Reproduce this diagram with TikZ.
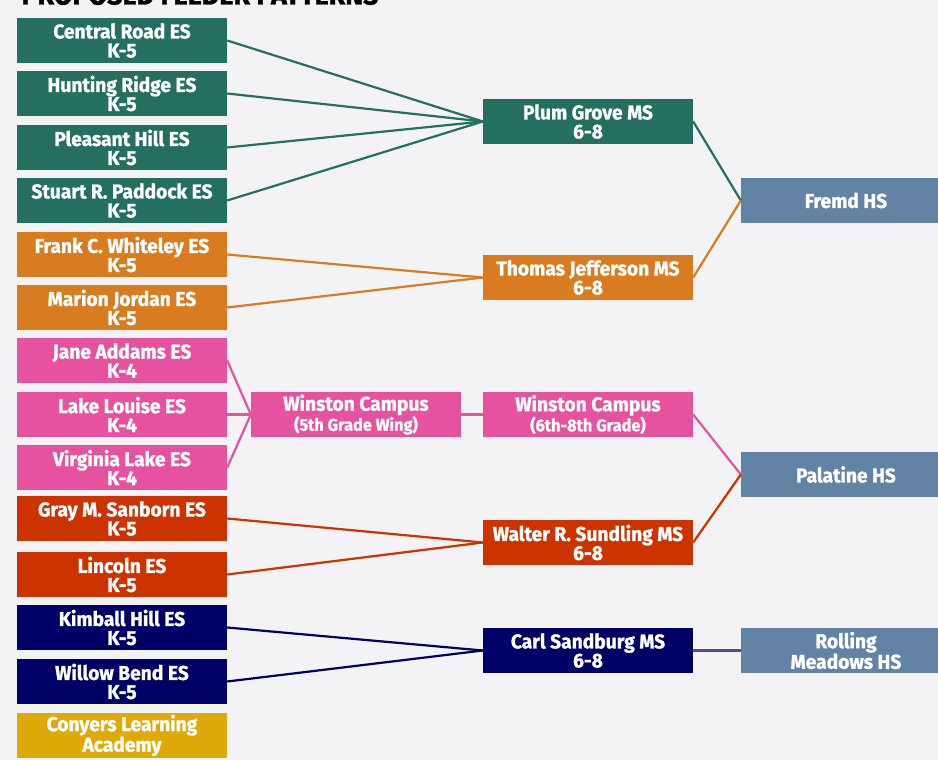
\documentclass[tikz,border=0pt]{standalone}
\usepackage{fontspec}
\setmainfont{Fira Sans}[FakeStretch=0.96, BoldFeatures={FakeBold=1.2}]
\definecolor{pgreen}{HTML}{246F60}
\definecolor{porange}{HTML}{D97B20}
\definecolor{ppink}{HTML}{E6529F}
\definecolor{pred}{HTML}{CC3300}
\definecolor{pnavy}{HTML}{000066}
\definecolor{pgold}{HTML}{DDAA0A}
\definecolor{psteel}{HTML}{6283A3}
\definecolor{plink}{HTML}{4F4F90}
\definecolor{pbg}{HTML}{F3F3F5}
\tikzset{
  school/.style={fill=#1, text=white, minimum width=210pt, minimum height=45pt,
    inner sep=0pt, align=center, font=\fontsize{20}{19}\selectfont\bfseries},
  link/.style={draw=#1, line width=2.2pt},
}
\newcommand{\sub}[1]{{\fontsize{17}{17}\selectfont #1}}
\begin{document}
\begin{tikzpicture}[x=1pt, y=-1pt]
\fill[pbg] (0,0) rectangle (938,760);
\useasboundingbox (0,0) rectangle (938,760);
\node[anchor=base west, font=\fontsize{28}{28}\selectfont\bfseries] (title) at (18,4.5) {PROPOSED FEEDER PATTERNS};
% elementary schools
\node[school=pgreen] (cr) at (122,40.5) {Central Road ES\\K-5};
\node[school=pgreen] (hr) at (122,93.5) {Hunting Ridge ES\\K-5};
\node[school=pgreen] (ph) at (122,147.5) {Pleasant Hill ES\\K-5};
\node[school=pgreen] (sp) at (122,200.5) {Stuart R. Paddock ES\\K-5};
\node[school=porange] (fw) at (122,254.5) {Frank C. Whiteley ES\\K-5};
\node[school=porange] (mj) at (122,307.5) {Marion Jordan ES\\K-5};
\node[school=ppink] (ja) at (122,360.5) {Jane Addams ES\\K-4};
\node[school=ppink] (ll) at (122,414.5) {Lake Louise ES\\K-4};
\node[school=ppink] (vl) at (122,467.5) {Virginia Lake ES\\K-4};
\node[school=pred] (gs) at (122,518.5) {Gray M. Sanborn ES\\K-5};
\node[school=pred] (li) at (122,574.5) {Lincoln ES\\K-5};
\node[school=pnavy] (kh) at (122,627.5) {Kimball Hill ES\\K-5};
\node[school=pnavy] (wb) at (122,681.5) {Willow Bend ES\\K-5};
\node[school=pgold] (cl) at (122,735.5) {Conyers Learning\\Academy};
% middle schools
\node[school=ppink] (w5) at (356,414.5) {Winston Campus\\\sub{(5th Grade Wing)}};
\node[school=pgreen] (pg) at (588,121.5) {Plum Grove MS\\6-8};
\node[school=porange] (tj) at (588,277.5) {Thomas Jefferson MS\\6-8};
\node[school=ppink] (w6) at (588,414.5) {Winston Campus\\\sub{(6th-8th Grade)}};
\node[school=pred] (ws) at (588,542.5) {Walter R. Sundling MS\\6-8};
\node[school=pnavy] (cs) at (588,650.5) {Carl Sandburg MS\\6-8};
% high schools
\node[school=psteel] (fr) at (846,200.5) {Fremd HS};
\node[school=psteel] (pa) at (846,474.5) {Palatine HS};
\node[school=psteel] (rm) at (846,650.5) {Rolling\\Meadows HS};
% feeder lines
\foreach \s in {cr,hr,ph,sp} \draw[link=pgreen] (\s.east) -- (pg.west);
\foreach \s in {fw,mj} \draw[link=porange] (\s.east) -- (tj.west);
\foreach \s in {ja,ll,vl} \draw[link=ppink] (\s.east) -- (w5.west);
\foreach \s in {gs,li} \draw[link=pred] (\s.east) -- (ws.west);
\foreach \s in {kh,wb} \draw[link=pnavy] (\s.east) -- (cs.west);
\draw[link=ppink] (w5.east) -- (w6.west);
\draw[link=pgreen] (pg.east) -- (fr.west);
\draw[link=porange] (tj.east) -- (fr.west);
\draw[link=ppink] (w6.east) -- (pa.west);
\draw[link=pred] (ws.east) -- (pa.west);
\draw[link=plink] (cs.east) -- (rm.west);
\end{tikzpicture}
\end{document}
